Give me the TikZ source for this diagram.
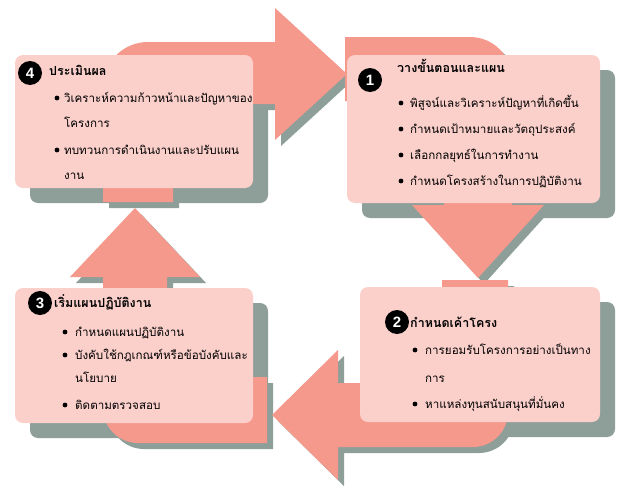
\documentclass[tikz,border=0pt]{standalone}
\usepackage{fontspec}
\newfontfamily\thaifont[Script=Thai]{Loma}
\setsansfont{Liberation Sans}
\usetikzlibrary{positioning}
\definecolor{boxpink}{HTML}{FBD0CB}
\definecolor{arrowpink}{HTML}{F5998C}
\definecolor{shadowgray}{HTML}{8E9E99}

\begin{document}
\begin{tikzpicture}[x=1pt,y=-1pt,
  boxfill/.style={fill=boxpink, rounded corners=8pt},
  boxshade/.style={fill=shadowgray, rounded corners=8pt},
  num/.style={circle, fill=black, text=white, inner sep=0pt, minimum size=24pt, font=\sffamily\bfseries\fontsize{15}{15}\selectfont},
  title/.style={anchor=base west, inner sep=0pt, font=\thaifont\bfseries\fontsize{12.5}{14}\selectfont},
  item/.style={anchor=base west, inner sep=0pt, font=\thaifont\fontsize{11.6}{13}\selectfont}]
\useasboundingbox (0,0) rectangle (619,490);
% shadows of the four boxes
\foreach \xa/\ya/\xb/\yb in {15/55/253/188, 347/55/600/203, 360/287/600/422, 15/288/253/423}
  \fill[boxshade] (\xa+15,\ya+15) rectangle (\xb+15,\yb+15);
% bent arrows: first the shadow, then the fill
\foreach \s/\c in {6/shadowgray, 0/arrowpink} {
  \fill[\c, shift={(\s,\s)}] (103,202) -- (103,87) arc (180:270:45) -- (275,42) -- (275,8)
    -- (347,74) -- (275,140) -- (275,104) -- (173,104) -- (173,202) -- cycle;
  \fill[\c, shift={(\s,\s)}] (345,37) -- (470,37) arc (270:360:42) -- (512,205) -- (544,205)
    -- (478,278) -- (412,205) -- (444,205) -- (444,101) -- (345,101) -- cycle;
  \fill[\c, shift={(\s,\s)}] (508,280) -- (508,412) arc (0:90:35) -- (338,447) -- (338,480)
    -- (272,415) -- (338,350) -- (338,383) -- (442,383) -- (442,280) -- cycle;
  \fill[\c, shift={(\s,\s)}] (267,377) -- (267,443) -- (138,443) arc (90:180:35) -- (103,277)
    -- (70,277) -- (135,208) -- (200,277) -- (167,277) -- (167,377) -- cycle;
}
% boxes
\fill[boxfill] (15,55) rectangle (253,188);
\fill[boxfill] (347,55) rectangle (600,203);
\fill[boxfill] (360,287) rectangle (600,422);
\fill[boxfill] (15,288) rectangle (253,423);
% bullets
\foreach \x/\y in {57/98, 57/150, 401/103, 401/129, 401/155, 401/181, 415/350, 415/404, 65/332, 65/355, 65/405}
  \fill (\x,\y) circle (2.4);

% step 4
\node[num] (n4) at (30,73) {4};
\node[title] (t4) at (49,75) {ประเมินผล};
\node[item] (b4a) at (64,102) {วิเคราะห์ความก้าวหน้าและปัญหาของ};
\node[item] (b4b) at (64,127) {โครงการ};
\node[item] (b4c) at (64,154) {ทบทวนการดำเนินงานและปรับแผน};
\node[item] (b4d) at (64,179) {งาน};
% step 1
\node[num] (n1) at (370,80) {1};
\node[title] (t1) at (397,72) {วางขั้นตอนและแผน};
\node[item] (b1a) at (410,107) {พิสูจน์และวิเคราะห์ปัญหาที่เกิดขึ้น};
\node[item] (b1b) at (410,133) {กำหนดเป้าหมายและวัตถุประสงค์};
\node[item] (b1c) at (410,159) {เลือกกลยุทธ์ในการทำงาน};
\node[item] (b1d) at (410,185) {กำหนดโครงสร้างในการปฏิบัติงาน};
% step 2
\node[num] (n2) at (397,322) {2};
\node[title] (t2) at (410,327) {กำหนดเค้าโครง};
\node[item] (b2a) at (425,354) {การยอมรับโครงการอย่างเป็นทาง};
\node[item] (b2b) at (425,382) {การ};
\node[item] (b2c) at (425,408) {หาแหล่งทุนสนับสนุนที่มั่นคง};
% step 3
\node[num] (n3) at (40,303) {3};
\node[title] (t3) at (54,307) {เริ่มแผนปฏิบัติงาน};
\node[item] (b3a) at (75,336) {กำหนดแผนปฏิบัติงาน};
\node[item] (b3b) at (75,359) {บังคับใช้กฎเกณฑ์หรือข้อบังคับและ};
\node[item] (b3c) at (75,382) {นโยบาย};
\node[item] (b3d) at (75,409) {ติดตามตรวจสอบ};
\end{tikzpicture}
\end{document}
